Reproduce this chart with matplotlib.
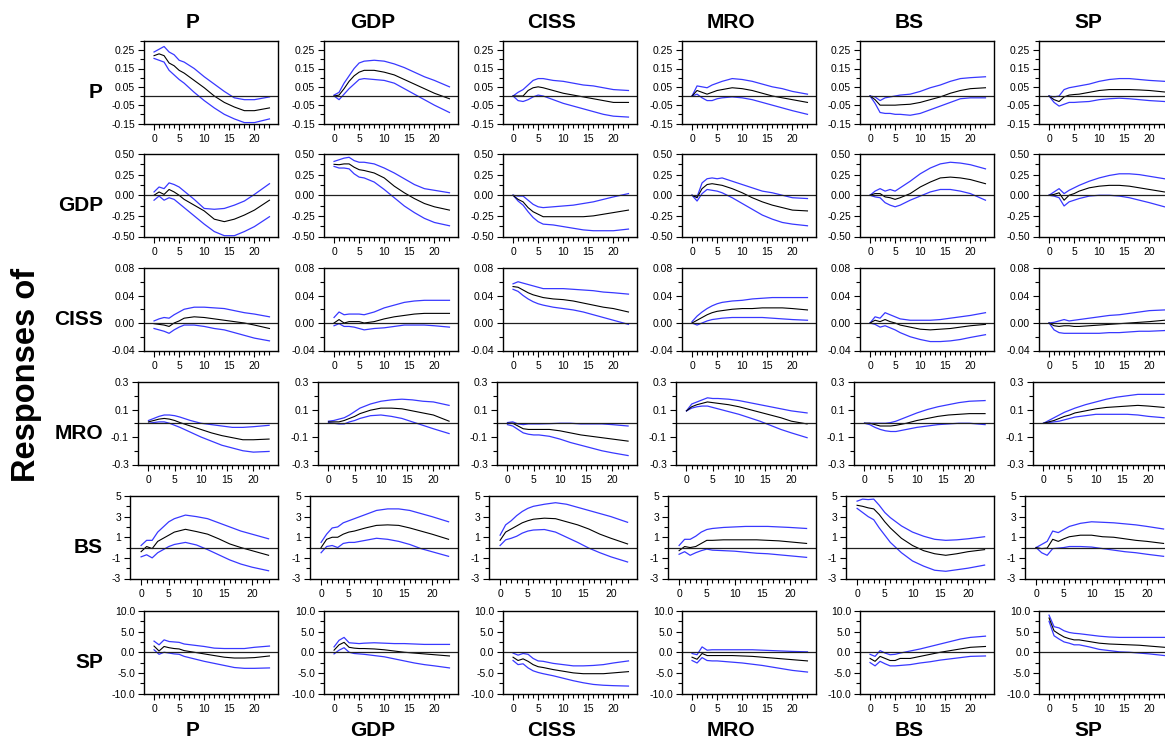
import matplotlib
matplotlib.use("Agg")
import matplotlib.pyplot as plt
import numpy as np

plt.rcParams['font.family'] = ['Liberation Sans', 'DejaVu Sans']

# ---------------- data ----------------
names = ["P", "GDP", "CISS", "MRO", "BS", "SP"]
H = [0, 1, 2, 3, 4, 5, 6, 8, 10, 12, 14, 16, 18, 20, 23]
xticklabels = ["0", "5", "10", "15", "20"]

# responses of P to shocks in P, GDP, CISS, MRO, BS, SP
P_mid = [
    [0.22, 0.23, 0.22, 0.18, 0.165, 0.14, 0.125, 0.085, 0.045, 0.0, -0.035, -0.06, -0.08, -0.08, -0.065],
    [0.0, 0.005, 0.04, 0.08, 0.11, 0.13, 0.14, 0.14, 0.13, 0.115, 0.09, 0.065, 0.04, 0.015, -0.015],
    [0.0, 0.0, 0.0, 0.03, 0.045, 0.05, 0.045, 0.03, 0.015, 0.005, -0.005, -0.015, -0.025, -0.035, -0.035],
    [0.0, 0.03, 0.02, 0.01, 0.02, 0.03, 0.035, 0.045, 0.04, 0.03, 0.015, 0.0, -0.01, -0.02, -0.035],
    [0.0, -0.02, -0.05, -0.05, -0.05, -0.05, -0.048, -0.045, -0.035, -0.02, -0.005, 0.015, 0.03, 0.04, 0.045],
    [0.0, -0.02, -0.03, -0.005, 0.005, 0.008, 0.01, 0.02, 0.03, 0.035, 0.035, 0.035, 0.033, 0.03, 0.022],
]
P_hi = [
    [0.24, 0.255, 0.27, 0.24, 0.225, 0.195, 0.185, 0.15, 0.105, 0.065, 0.025, -0.01, -0.02, -0.02, -0.005],
    [0.005, 0.02, 0.07, 0.11, 0.15, 0.18, 0.19, 0.195, 0.19, 0.175, 0.155, 0.13, 0.105, 0.085, 0.05],
    [0.0, 0.02, 0.035, 0.06, 0.085, 0.095, 0.095, 0.085, 0.08, 0.07, 0.06, 0.055, 0.045, 0.035, 0.03],
    [0.0, 0.055, 0.05, 0.045, 0.06, 0.07, 0.08, 0.095, 0.09, 0.08, 0.065, 0.05, 0.04, 0.025, 0.01],
    [0.0, -0.005, -0.025, -0.01, -0.005, 0.0, 0.005, 0.01, 0.025, 0.045, 0.06, 0.08, 0.095, 0.1, 0.105],
    [0.0, -0.005, 0.0, 0.035, 0.045, 0.05, 0.055, 0.065, 0.08, 0.09, 0.095, 0.095, 0.09, 0.085, 0.08],
]
P_lo = [
    [0.205, 0.195, 0.185, 0.14, 0.115, 0.09, 0.07, 0.02, -0.025, -0.065, -0.1, -0.125, -0.145, -0.145, -0.125],
    [0.0, -0.02, 0.01, 0.04, 0.065, 0.09, 0.095, 0.09, 0.085, 0.07, 0.04, 0.01, -0.02, -0.05, -0.09],
    [0.0, -0.025, -0.03, -0.02, -0.005, 0.005, 0.0, -0.02, -0.04, -0.055, -0.07, -0.085, -0.1, -0.11, -0.115],
    [0.0, 0.01, -0.01, -0.025, -0.025, -0.015, -0.01, -0.005, -0.01, -0.02, -0.035, -0.05, -0.065, -0.08, -0.1],
    [0.0, -0.04, -0.09, -0.095, -0.095, -0.1, -0.1, -0.105, -0.095, -0.075, -0.055, -0.035, -0.015, -0.01, -0.01],
    [0.0, -0.035, -0.055, -0.045, -0.035, -0.035, -0.033, -0.03, -0.02, -0.015, -0.012, -0.015, -0.02, -0.025, -0.03],
]

GDP_mid = [
    [0.0, 0.04, 0.01, 0.07, 0.04, 0.0, -0.05, -0.12, -0.19, -0.29, -0.32, -0.29, -0.24, -0.18, -0.06],
    [0.375, 0.37, 0.38, 0.38, 0.34, 0.31, 0.3, 0.27, 0.21, 0.11, 0.03, -0.04, -0.1, -0.14, -0.18],
    [0.0, -0.05, -0.08, -0.15, -0.2, -0.23, -0.26, -0.26, -0.26, -0.26, -0.26, -0.25, -0.23, -0.21, -0.18],
    [0.0, -0.03, 0.08, 0.13, 0.14, 0.13, 0.12, 0.08, 0.03, -0.03, -0.08, -0.12, -0.15, -0.18, -0.19],
    [0.0, 0.02, 0.02, -0.02, -0.03, -0.05, -0.03, 0.02, 0.1, 0.16, 0.21, 0.22, 0.21, 0.19, 0.14],
    [0.0, 0.01, 0.03, -0.06, 0.0, 0.02, 0.05, 0.09, 0.11, 0.12, 0.12, 0.11, 0.09, 0.07, 0.04],
]
GDP_hi = [
    [0.04, 0.1, 0.08, 0.15, 0.13, 0.1, 0.05, -0.05, -0.16, -0.17, -0.16, -0.12, -0.07, 0.01, 0.14],
    [0.41, 0.43, 0.45, 0.46, 0.42, 0.4, 0.4, 0.38, 0.33, 0.27, 0.2, 0.13, 0.08, 0.06, 0.03],
    [0.0, -0.01, -0.01, -0.06, -0.11, -0.14, -0.15, -0.14, -0.13, -0.12, -0.1, -0.08, -0.05, -0.02, 0.02],
    [0.0, -0.02, 0.15, 0.2, 0.21, 0.2, 0.21, 0.17, 0.13, 0.09, 0.05, 0.03, 0.0, -0.03, -0.04],
    [0.0, 0.05, 0.08, 0.05, 0.07, 0.05, 0.09, 0.17, 0.26, 0.33, 0.38, 0.4, 0.39, 0.37, 0.32],
    [0.0, 0.04, 0.08, 0.02, 0.06, 0.09, 0.12, 0.17, 0.21, 0.24, 0.26, 0.26, 0.25, 0.23, 0.2],
]
GDP_lo = [
    [-0.06, -0.01, -0.06, -0.03, -0.05, -0.1, -0.15, -0.25, -0.35, -0.44, -0.49, -0.49, -0.44, -0.38, -0.26],
    [0.35, 0.33, 0.33, 0.32, 0.26, 0.22, 0.21, 0.16, 0.07, -0.03, -0.13, -0.21, -0.28, -0.33, -0.37],
    [0.0, -0.07, -0.12, -0.2, -0.27, -0.32, -0.35, -0.36, -0.38, -0.4, -0.42, -0.43, -0.43, -0.43, -0.41],
    [0.0, -0.07, 0.02, 0.07, 0.06, 0.05, 0.03, -0.03, -0.1, -0.17, -0.24, -0.29, -0.33, -0.35, -0.37],
    [0.0, -0.02, -0.03, -0.09, -0.12, -0.14, -0.12, -0.06, -0.01, 0.04, 0.07, 0.07, 0.05, 0.02, -0.06],
    [0.0, -0.01, -0.03, -0.13, -0.08, -0.06, -0.04, -0.01, 0.0, 0.0, -0.01, -0.03, -0.06, -0.09, -0.14],
]

CISS_mid = [
    [-0.001, -0.002, -0.003, -0.005, 0.0, 0.003, 0.007, 0.009, 0.008, 0.006, 0.004, 0.002, 0.0, -0.003, -0.008],
    [0.0, 0.005, 0.0, 0.002, 0.002, 0.002, 0.0, 0.002, 0.006, 0.009, 0.011, 0.013, 0.014, 0.014, 0.014],
    [0.053, 0.052, 0.048, 0.044, 0.041, 0.039, 0.037, 0.035, 0.034, 0.032, 0.029, 0.026, 0.023, 0.021, 0.016],
    [0.0, 0.004, 0.008, 0.012, 0.015, 0.017, 0.018, 0.02, 0.021, 0.021, 0.022, 0.022, 0.022, 0.021, 0.019],
    [0.0, 0.004, 0.002, 0.005, 0.002, 0.0, -0.003, -0.006, -0.009, -0.01, -0.009, -0.008, -0.006, -0.004, -0.002],
    [0.0, -0.004, -0.005, -0.004, -0.004, -0.005, -0.005, -0.004, -0.003, -0.002, -0.001, 0.0, 0.001, 0.002, 0.004],
]
CISS_hi = [
    [0.003, 0.006, 0.008, 0.007, 0.012, 0.016, 0.02, 0.023, 0.023, 0.022, 0.021, 0.018, 0.015, 0.013, 0.009],
    [0.008, 0.016, 0.012, 0.013, 0.013, 0.013, 0.012, 0.016, 0.022, 0.026, 0.03, 0.032, 0.033, 0.033, 0.033],
    [0.057, 0.06, 0.058, 0.056, 0.054, 0.052, 0.05, 0.05, 0.05, 0.049, 0.048, 0.047, 0.045, 0.044, 0.042],
    [0.002, 0.01, 0.016, 0.021, 0.025, 0.028, 0.03, 0.032, 0.033, 0.035, 0.036, 0.037, 0.037, 0.037, 0.037],
    [0.0, 0.009, 0.007, 0.015, 0.012, 0.009, 0.006, 0.004, 0.004, 0.004, 0.005, 0.007, 0.009, 0.011, 0.015],
    [0.0, 0.001, 0.003, 0.005, 0.003, 0.004, 0.005, 0.007, 0.009, 0.011, 0.012, 0.014, 0.016, 0.018, 0.019],
]
CISS_lo = [
    [-0.008, -0.01, -0.012, -0.015, -0.01, -0.006, -0.003, -0.003, -0.005, -0.008, -0.01, -0.014, -0.018, -0.022, -0.026],
    [-0.004, -0.001, -0.005, -0.005, -0.006, -0.008, -0.01, -0.008, -0.007, -0.005, -0.003, -0.003, -0.003, -0.004, -0.006],
    [0.049, 0.046, 0.04, 0.035, 0.031, 0.028, 0.026, 0.023, 0.021, 0.019, 0.016, 0.012, 0.008, 0.004, -0.002],
    [0.0, -0.003, 0.0, 0.003, 0.005, 0.006, 0.007, 0.008, 0.008, 0.008, 0.008, 0.007, 0.006, 0.005, 0.004],
    [0.0, -0.002, -0.006, -0.004, -0.007, -0.01, -0.014, -0.02, -0.024, -0.027, -0.027, -0.026, -0.024, -0.021, -0.017],
    [0.0, -0.01, -0.014, -0.015, -0.015, -0.015, -0.015, -0.015, -0.015, -0.014, -0.014, -0.013, -0.012, -0.012, -0.011],
]

MRO_mid = [
    [0.01, 0.02, 0.03, 0.035, 0.03, 0.02, 0.005, -0.02, -0.045, -0.07, -0.09, -0.105, -0.12, -0.12, -0.115],
    [0.01, 0.01, 0.01, 0.02, 0.035, 0.05, 0.07, 0.095, 0.11, 0.11, 0.105, 0.09, 0.075, 0.06, 0.015],
    [0.0, 0.0, -0.02, -0.04, -0.045, -0.045, -0.045, -0.045, -0.055, -0.07, -0.085, -0.095, -0.105, -0.115, -0.13],
    [0.09, 0.12, 0.135, 0.145, 0.155, 0.15, 0.145, 0.135, 0.12, 0.1, 0.08, 0.06, 0.04, 0.015, -0.005],
    [0.0, 0.0, -0.01, -0.02, -0.02, -0.02, -0.015, 0.0, 0.02, 0.035, 0.05, 0.06, 0.065, 0.07, 0.07],
    [0.0, 0.01, 0.02, 0.035, 0.05, 0.06, 0.075, 0.09, 0.105, 0.115, 0.12, 0.125, 0.13, 0.125, 0.115],
]
MRO_hi = [
    [0.02, 0.035, 0.05, 0.06, 0.06, 0.055, 0.045, 0.02, 0.0, -0.01, -0.02, -0.03, -0.03, -0.025, -0.015],
    [0.015, 0.02, 0.03, 0.04, 0.06, 0.085, 0.11, 0.14, 0.16, 0.17, 0.175, 0.17, 0.16, 0.155, 0.13],
    [0.005, 0.01, -0.005, -0.01, -0.005, -0.005, -0.005, -0.003, 0.0, 0.0, -0.005, -0.005, -0.005, -0.01, -0.02],
    [0.09, 0.14, 0.155, 0.17, 0.185, 0.18, 0.18, 0.175, 0.165, 0.15, 0.135, 0.12, 0.105, 0.09, 0.075],
    [0.0, 0.0, 0.0, 0.0, 0.0, 0.005, 0.015, 0.045, 0.075, 0.1, 0.12, 0.135, 0.15, 0.16, 0.165],
    [0.0, 0.02, 0.04, 0.06, 0.08, 0.095, 0.11, 0.135, 0.155, 0.175, 0.19, 0.2, 0.21, 0.21, 0.21],
]
MRO_lo = [
    [0.0, 0.005, 0.01, 0.01, 0.0, -0.015, -0.03, -0.065, -0.1, -0.13, -0.16, -0.18, -0.2, -0.21, -0.205],
    [0.005, 0.0, -0.005, -0.005, 0.01, 0.02, 0.035, 0.055, 0.06, 0.05, 0.035, 0.01, -0.015, -0.04, -0.075],
    [-0.01, -0.02, -0.045, -0.07, -0.08, -0.085, -0.085, -0.095, -0.115, -0.14, -0.16, -0.18, -0.2, -0.215, -0.235],
    [0.09, 0.11, 0.12, 0.125, 0.125, 0.115, 0.105, 0.085, 0.065, 0.04, 0.015, -0.015, -0.045, -0.07, -0.105],
    [0.0, -0.01, -0.03, -0.045, -0.055, -0.06, -0.06, -0.045, -0.03, -0.02, -0.01, -0.005, 0.0, 0.0, -0.01],
    [0.0, 0.005, 0.01, 0.015, 0.025, 0.035, 0.045, 0.055, 0.065, 0.065, 0.065, 0.065, 0.06, 0.05, 0.04],
]

BS_mid = [
    [-0.4, 0.1, -0.1, 0.6, 0.9, 1.2, 1.5, 1.77, 1.55, 1.3, 0.85, 0.35, 0.0, -0.3, -0.75],
    [0.0, 0.8, 1.0, 1.0, 1.3, 1.5, 1.6, 1.9, 2.15, 2.2, 2.15, 1.9, 1.6, 1.3, 0.8],
    [0.7, 1.5, 1.8, 2.1, 2.4, 2.6, 2.75, 2.85, 2.8, 2.5, 2.2, 1.8, 1.3, 0.9, 0.35],
    [-0.3, 0.1, 0.0, 0.1, 0.4, 0.7, 0.7, 0.75, 0.75, 0.75, 0.75, 0.7, 0.65, 0.55, 0.4],
    [4.1, 4.0, 3.85, 3.75, 3.2, 2.5, 1.9, 0.9, 0.2, -0.3, -0.6, -0.75, -0.6, -0.4, -0.2],
    [0.0, -0.1, -0.05, 0.8, 0.6, 0.85, 1.05, 1.2, 1.2, 1.05, 1.0, 0.85, 0.7, 0.6, 0.4],
]
BS_hi = [
    [0.2, 0.7, 0.7, 1.5, 2.0, 2.5, 2.8, 3.15, 3.0, 2.8, 2.4, 2.0, 1.6, 1.3, 0.85],
    [0.5, 1.3, 1.9, 2.0, 2.4, 2.6, 2.8, 3.2, 3.6, 3.75, 3.75, 3.6, 3.3, 3.0, 2.5],
    [1.2, 2.2, 2.6, 3.1, 3.5, 3.8, 4.0, 4.2, 4.35, 4.2, 3.9, 3.6, 3.3, 3.0, 2.45],
    [0.2, 0.8, 0.8, 1.1, 1.5, 1.75, 1.85, 1.95, 2.0, 2.05, 2.05, 2.05, 2.0, 1.95, 1.85],
    [4.5, 4.7, 4.65, 4.7, 4.1, 3.4, 2.9, 2.1, 1.5, 1.1, 0.8, 0.7, 0.75, 0.85, 1.05],
    [0.0, 0.3, 0.6, 1.6, 1.45, 1.75, 2.05, 2.35, 2.5, 2.45, 2.4, 2.3, 2.2, 2.05, 1.8],
]
BS_lo = [
    [-0.9, -0.7, -1.0, -0.5, -0.2, 0.1, 0.3, 0.5, 0.25, -0.2, -0.7, -1.2, -1.6, -1.9, -2.25],
    [-0.5, 0.1, 0.2, 0.0, 0.4, 0.5, 0.5, 0.7, 0.9, 0.8, 0.6, 0.3, -0.1, -0.4, -0.85],
    [0.2, 0.75, 0.9, 1.1, 1.4, 1.6, 1.7, 1.75, 1.5, 1.0, 0.5, -0.05, -0.5, -0.9, -1.4],
    [-0.65, -0.4, -0.75, -0.5, -0.3, -0.15, -0.25, -0.3, -0.35, -0.45, -0.55, -0.6, -0.7, -0.8, -0.95],
    [3.8, 3.4, 3.0, 2.7, 1.9, 1.2, 0.5, -0.5, -1.3, -1.8, -2.2, -2.3, -2.15, -2.0, -1.7],
    [0.0, -0.5, -0.75, -0.1, -0.05, 0.0, 0.1, 0.1, 0.05, -0.1, -0.25, -0.4, -0.5, -0.65, -0.85],
]

SP_mid = [
    [1.5, 0.3, 1.4, 1.1, 0.9, 0.8, 0.4, 0.0, -0.4, -0.8, -1.2, -1.4, -1.4, -1.3, -0.9],
    [0.5, 1.8, 2.4, 1.2, 1.0, 0.9, 0.9, 0.8, 0.6, 0.3, 0.0, -0.2, -0.4, -0.6, -0.9],
    [-1.2, -2.0, -1.6, -2.2, -3.0, -3.5, -3.7, -4.2, -4.6, -5.0, -5.2, -5.2, -5.2, -5.0, -4.7],
    [-1.2, -1.7, -0.3, -0.8, -0.8, -0.8, -0.8, -0.8, -0.9, -1.0, -1.2, -1.4, -1.6, -1.8, -2.1],
    [-1.5, -2.2, -1.0, -1.5, -2.0, -2.0, -1.5, -1.5, -1.0, -0.5, 0.0, 0.4, 0.8, 1.2, 1.4],
    [8.3, 5.2, 4.4, 3.7, 3.3, 3.0, 3.0, 2.6, 2.2, 2.0, 1.9, 1.8, 1.7, 1.5, 1.2],
]
SP_hi = [
    [2.7, 1.8, 3.0, 2.6, 2.5, 2.4, 2.0, 1.7, 1.4, 1.0, 0.9, 0.9, 0.9, 1.2, 1.5],
    [1.3, 2.9, 3.6, 2.3, 2.2, 2.1, 2.2, 2.3, 2.2, 2.1, 2.1, 2.0, 1.9, 1.9, 1.9],
    [-0.2, -0.7, -0.3, -0.5, -1.5, -2.1, -2.2, -2.7, -3.0, -3.3, -3.3, -3.2, -3.0, -2.6, -2.1],
    [-0.3, -0.6, 1.3, 0.5, 0.6, 0.6, 0.6, 0.6, 0.6, 0.6, 0.5, 0.4, 0.3, 0.2, 0.1],
    [-0.5, -1.0, 0.4, -0.2, -0.6, -0.5, -0.2, 0.3, 0.8, 1.4, 2.0, 2.6, 3.2, 3.6, 3.9],
    [9.0, 6.2, 5.9, 5.2, 4.8, 4.6, 4.5, 4.2, 3.9, 3.7, 3.6, 3.6, 3.6, 3.6, 3.6],
]
SP_lo = [
    [0.6, -0.5, 0.0, -0.2, -0.4, -0.5, -1.0, -1.6, -2.2, -2.7, -3.2, -3.7, -3.9, -3.9, -3.8],
    [-0.4, 0.5, 1.1, 0.0, -0.3, -0.4, -0.5, -0.8, -1.1, -1.6, -2.1, -2.6, -3.0, -3.3, -3.8],
    [-2.0, -3.0, -2.8, -3.8, -4.5, -4.9, -5.2, -5.7, -6.3, -6.9, -7.4, -7.8, -8.0, -8.1, -8.2],
    [-2.0, -2.6, -1.3, -2.0, -2.1, -2.1, -2.2, -2.4, -2.6, -2.9, -3.2, -3.6, -4.0, -4.4, -4.8],
    [-2.5, -3.3, -2.2, -2.8, -3.3, -3.3, -3.2, -3.0, -2.6, -2.3, -1.9, -1.6, -1.3, -1.0, -0.9],
    [7.5, 4.0, 3.2, 2.5, 2.2, 1.8, 1.8, 1.3, 0.7, 0.4, 0.1, 0.0, -0.2, -0.4, -0.8],
]

MID = [P_mid, GDP_mid, CISS_mid, MRO_mid, BS_mid, SP_mid]
HI = [P_hi, GDP_hi, CISS_hi, MRO_hi, BS_hi, SP_hi]
LO = [P_lo, GDP_lo, CISS_lo, MRO_lo, BS_lo, SP_lo]

# y-axis settings per response row
YLIM = [(-0.15, 0.30), (-0.5, 0.5), (-0.04, 0.08), (-0.3, 0.3), (-3, 5), (-10, 10)]
YMAJ = [[-0.15, -0.05, 0.05, 0.15, 0.25], [-0.5, -0.25, 0.0, 0.25, 0.5],
        [-0.04, 0.0, 0.04, 0.08], [-0.3, -0.1, 0.1, 0.3], [-3, -1, 1, 3, 5],
        [-10, -5, 0, 5, 10]]
YSTEP = [0.05, 0.125, 0.02, 0.1, 1.0, 2.5]
YFMT = ["%.2f", "%.2f", "%.2f", "%.1f", "%d", "%.1f"]

# ---------------- layout ----------------
W, Hpx = 1165, 740
fig = plt.figure(figsize=(W / 100, Hpx / 100), dpi=100)

col_right = [278, 458, 637, 816, 994, 1173]
row_top = [41, 154, 268, 382, 496, 611]
row_h = 82.5
row_w = [134, 134, 134, 140, 148, 134]

blue = "#3838ff"
for r in range(6):
    for c in range(6):
        left = col_right[c] - row_w[r]
        ax = fig.add_axes([left / W, 1 - (row_top[r] + row_h) / Hpx,
                           row_w[r] / W, row_h / Hpx])
        ax.plot(H, HI[r][c], color=blue, lw=0.9)
        ax.plot(H, LO[r][c], color=blue, lw=0.9)
        ax.plot(H, MID[r][c], color="black", lw=0.8)
        ax.axhline(0, color="#202020", lw=0.9)
        ax.set_xlim(-2, 24.7)
        ax.set_ylim(*YLIM[r])
        ax.set_xticks([0, 5, 10, 15, 20])
        ax.set_xticklabels(xticklabels)
        ax.set_xticks(range(0, 24), minor=True)
        ax.set_yticks(YMAJ[r])
        ax.set_yticklabels([YFMT[r] % v for v in YMAJ[r]])
        lo_, hi_ = YLIM[r]
        ax.set_yticks(np.arange(lo_, hi_ + 1e-9, YSTEP[r]), minor=True)
        ax.tick_params(axis="both", which="major", direction="out", length=4.5,
                       width=0.8, labelsize=7.5, colors="black", pad=2)
        ax.tick_params(axis="both", which="minor", direction="out", length=3,
                       width=0.8)
        ax.tick_params(axis="x", which="major", pad=3)
        for s in ax.spines.values():
            s.set_linewidth(1.0)
            s.set_color("black")

# column titles (top and bottom)
for c in range(6):
    xc = (col_right[c] - 85) / W
    fig.text(xc, 1 - 22.5 / Hpx, names[c], ha="center", va="center",
             fontsize=15, fontweight="bold")
    fig.text(xc, 1 - 731 / Hpx, names[c], ha="center", va="center",
             fontsize=15, fontweight="bold")

# row labels
for r in range(6):
    yc = row_top[r] + row_h / 2 + 10
    fig.text(103 / W, 1 - yc / Hpx, names[r], ha="right", va="center",
             fontsize=15, fontweight="bold")

fig.text(27 / W, 1 - 375 / Hpx, "Responses of", rotation=90, ha="center",
         va="center", fontsize=23.5, fontweight="bold")

fig.savefig("out.png", dpi=100)
